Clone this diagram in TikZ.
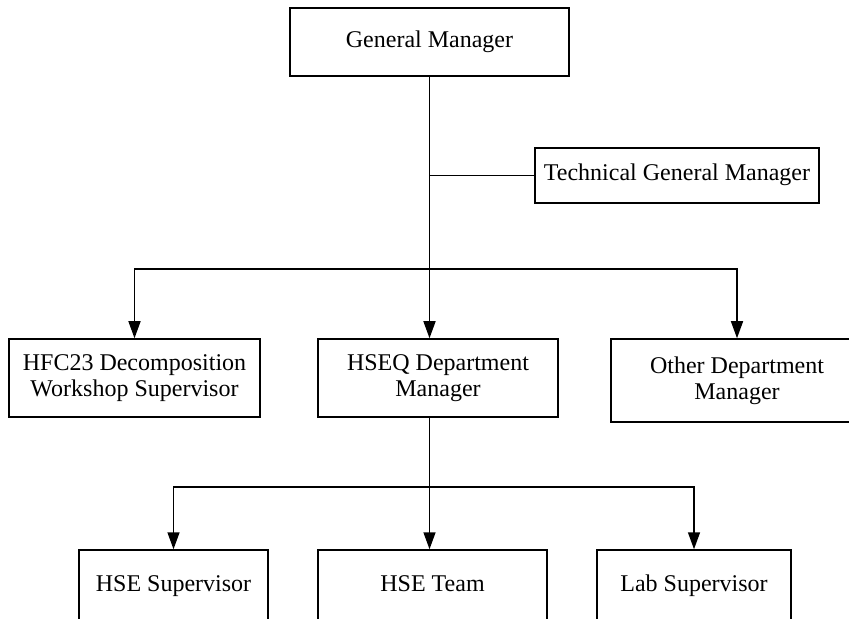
\documentclass[tikz,border=0pt]{standalone}
\usepackage{fontspec}
\setmainfont{Liberation Serif}
\usetikzlibrary{arrows.meta}
\tikzset{
	box/.style={draw, line width=0.75pt, align=center, inner sep=2pt, font=\fontsize{12}{13}\selectfont},
	oneline/.style={text height=8pt, text depth=2.5pt},
	link/.style={line width=0.75pt},
	arr/.style={link, -{Triangle[length=8.5pt,width=6pt]}}
}

\begin{document}
\begin{tikzpicture}[x=0.5pt, y=-0.5pt]
	%%%%% START %%%%%
	\useasboundingbox (0,0) rectangle (849,619);
	\clip (0,0) rectangle (849,619);

	\node[box, oneline, minimum width=139.5pt, minimum height=34pt] (gm) at (429.5,42) {General Manager};
	\node[box, oneline, minimum width=142pt, minimum height=27.5pt] (tgm) at (677,175.5) {Technical General Manager};

	\node[box, minimum width=125.5pt, minimum height=39pt] (hfc) at (134.5,378) {HFC23 Decomposition\\Workshop Supervisor};
	\node[box, minimum width=120pt, minimum height=39pt] (hseq) at (438,378) {HSEQ Department\\Manager};
	\node[box, minimum width=126pt, minimum height=41.5pt] (other) at (737,380.5) {Other Department\\Manager};

	\node[box, oneline, minimum width=94.5pt, minimum height=36pt] (hsesup) at (173.5,586) {HSE Supervisor};
	\node[box, oneline, minimum width=114.5pt, minimum height=36pt] (team) at (432.5,586) {HSE Team};
	\node[box, oneline, minimum width=97pt, minimum height=36pt] (lab) at (694,586) {Lab Supervisor};

	\coordinate (split1) at (429.5,269);
	\coordinate (split2) at (429.5,487);

	% general manager down to the departments
	\draw[arr] (gm.south) -- (gm.south |- hseq.north);
	\draw[link] (gm.south |- tgm.west) -- (tgm.west);
	\draw[arr] (split1) -| (hfc.north);
	\draw[arr] (split1) -| (other.north);

	% HSEQ down to its teams
	\draw[arr] (gm.south |- hseq.south) -- (gm.south |- team.north);
	\draw[arr] (split2) -| (hsesup.north);
	\draw[arr] (split2) -| (lab.north);
	%%%%% END %%%%%
\end{tikzpicture}
\end{document}
